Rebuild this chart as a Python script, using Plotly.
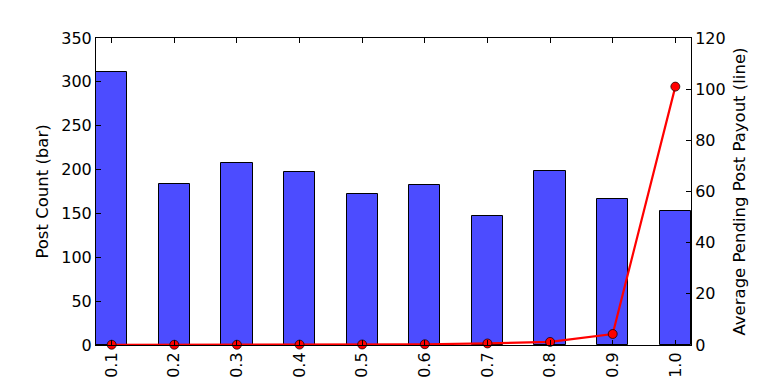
import plotly.graph_objects as go

categories = ["0.1", "0.2", "0.3", "0.4", "0.5", "0.6", "0.7", "0.8", "0.9", "1.0"]
post_count = [311, 184, 208, 197, 172, 182, 147, 198, 166, 153]
avg_payout = [0.1, 0.1, 0.1, 0.15, 0.2, 0.3, 0.6, 1.2, 4.3, 101]

xpos = list(range(len(categories)))
font = dict(family="DejaVu Sans", size=16, color="black")
tfont = dict(family="DejaVu Sans", size=16.5, color="black")

fig = go.Figure()
fig.add_trace(go.Bar(
    x=xpos, y=post_count, width=0.5,
    marker=dict(color="rgba(0,0,255,0.7)", line=dict(color="black", width=1)),
    yaxis="y", showlegend=False,
))
fig.add_trace(go.Scatter(
    x=xpos, y=avg_payout, mode="lines+markers",
    line=dict(color="red", width=2.2),
    marker=dict(color="red", size=9, line=dict(color="black", width=0.7)),
    yaxis="y2", showlegend=False, cliponaxis=False,
))

fig.update_layout(
    width=768, height=384,
    margin=dict(l=96, r=77, t=38, b=39),
    paper_bgcolor="white", plot_bgcolor="white",
    font=font,
    bargap=0,
    xaxis=dict(
        range=[-0.25, 9.25], tickmode="array", tickvals=xpos, ticktext=categories,
        tickangle=-90, ticks="inside", ticklen=5, tickcolor="black",
        showline=True, linecolor="black", linewidth=1, mirror="ticks",
        showgrid=False, zeroline=False, tickfont=font, automargin=False,
        layer="above traces",
    ),
    yaxis=dict(
        range=[0, 350], dtick=50, ticks="inside", ticklen=5, tickcolor="black",
        showline=True, linecolor="black", linewidth=1, mirror=True,
        showgrid=False, zeroline=False, tickfont=font, automargin=False,
        title=dict(text="Post Count (bar)", font=tfont, standoff=8),
    ),
    yaxis2=dict(
        range=[0, 120], dtick=20, overlaying="y", side="right",
        ticks="inside", ticklen=5, tickcolor="black",
        showline=True, linecolor="black", linewidth=1,
        showgrid=False, zeroline=False, tickfont=font, automargin=False,
        title=dict(text="Average Pending Post Payout (line)", font=tfont, standoff=8),
    ),
)

fig.write_html("out.html")
